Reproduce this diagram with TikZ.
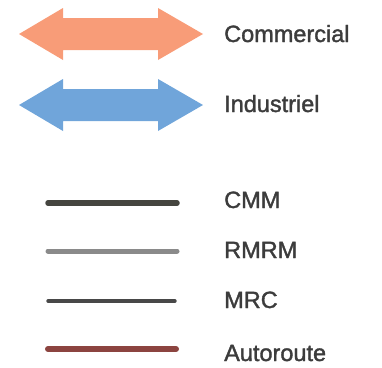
\documentclass[tikz,border=0pt]{standalone}
\usepackage{fontspec}
\setmainfont{Liberation Sans}[FakeBold=1.5]
\usetikzlibrary{positioning}
\definecolor{commercial}{HTML}{F89C78}
\definecolor{industriel}{HTML}{70A5DA}
\definecolor{textgray}{HTML}{3C3C3C}
\definecolor{cmmcol}{HTML}{45453F}
\definecolor{rmrmcol}{HTML}{8A8A8A}
\definecolor{mrccol}{HTML}{484848}
\definecolor{autocol}{HTML}{8C4440}

\begin{document}
\begin{tikzpicture}[x=1pt,y=-1pt,
    legtext/.style={anchor=base west,text=textgray,inner sep=0pt,
        font=\fontsize{23.5}{24}\selectfont},
    legline/.style={line cap=round}]
\useasboundingbox (0,0) rectangle (382,367);

% double arrows
\foreach \yc/\col/\nm in {34/commercial/Commercial,105/industriel/Industriel}{
  \fill[\col] (19,\yc) -- (63,\yc-26) -- (63,\yc-16) -- (158,\yc-16)
    -- (158,\yc-26) -- (203,\yc) -- (158,\yc+26) -- (158,\yc+16)
    -- (63,\yc+16) -- (63,\yc+26) -- cycle;
}
\node[legtext] (commercial) at (224,42) {Commercial};
\node[legtext] (industriel) at (224,112) {Industriel};

% lines
\draw[legline,cmmcol,line width=5.5pt] (48,203) -- (177,203);
\draw[legline,rmrmcol,line width=5pt] (48,251) -- (177,251);
\draw[legline,mrccol,line width=3.4pt] (48,301) -- (175,301);
\draw[legline,autocol,line width=6pt] (48,349) -- (176,349);

\node[legtext] (cmm) at (224,208) {CMM};
\node[legtext] (rmrm) at (224,258) {RMRM};
\node[legtext] (mrc) at (224,308) {MRC};
\node[legtext] (autoroute) at (224,361) {Autoroute};
\end{tikzpicture}
\end{document}
